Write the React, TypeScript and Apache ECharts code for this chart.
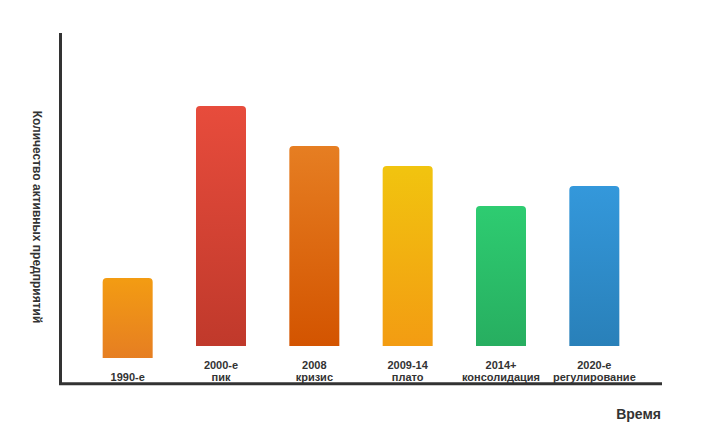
import React, { useEffect, useRef } from "react";
import * as echarts from "echarts";

const categories = ["1990-е", "2000-е\nпик", "2008\nкризис", "2009-14\nплато", "2014+\nконсолидация", "2020-е\nрегулирование"];
const values = [40, 120, 100, 90, 70, 80];
const topColors = ["#f39c12", "#e74c3c", "#e67e22", "#f1c40f", "#2ecc71", "#3498db"];
const bottomColors = ["#e67e22", "#c0392b", "#d35400", "#f39c12", "#27ae60", "#2980b9"];
const yAxisTitle = "Количество активных предприятий";
const xAxisTitle = "Время";

const Y_MAX = 175;
const GRID_TOP = 33;
const GRID_BOTTOM = 63;
const PLOT_H = 446 - GRID_TOP - GRID_BOTTOM;
const LINE_H = 12;
const LABEL_PAD = 13;

export default function App() {
  const ref = useRef<HTMLDivElement>(null);
  useEffect(() => {
    if (!ref.current) return;
    const chart = echarts.init(ref.current, null, { renderer: "svg" });
    const pxPerUnit = PLOT_H / Y_MAX;
    const offsets = categories.map((c) => (LABEL_PAD + c.split("\n").length * LINE_H) / pxPerUnit);
    chart.setOption({
      animation: false,
      backgroundColor: "#fff",
      grid: { left: 81, right: 65, top: GRID_TOP, bottom: GRID_BOTTOM },
      xAxis: {
        type: "category",
        data: categories,
        axisLine: { show: false },
        axisTick: { show: false },
        axisLabel: {
          interval: 0,
          margin: 0,
          verticalAlign: "bottom",
          lineHeight: LINE_H,
          fontSize: 11,
          fontWeight: "bold",
          fontFamily: "Liberation Sans, Arial, sans-serif",
          color: "#333",
        },
      },
      yAxis: {
        type: "value",
        min: 0,
        max: Y_MAX,
        show: false,
        splitLine: { show: false },
      },
      series: [
        {
          type: "bar",
          stack: "s",
          silent: true,
          data: offsets,
          itemStyle: { color: "rgba(0,0,0,0)" },
          barWidth: 50,
        },
        {
          type: "bar",
          stack: "s",
          barWidth: 50,
          data: values.map((v, i) => ({
            value: v,
            itemStyle: {
              borderRadius: [4, 4, 0, 0],
              color: new echarts.graphic.LinearGradient(0, 0, 0, 1, [
                { offset: 0, color: topColors[i] },
                { offset: 1, color: bottomColors[i] },
              ]),
            },
          })),
        },
      ],
      graphic: [
        { type: "line", shape: { x1: 60.5, y1: 33, x2: 60.5, y2: 385 }, style: { stroke: "#333", lineWidth: 3 } },
        { type: "line", shape: { x1: 59, y1: 383.8, x2: 662, y2: 383.8 }, style: { stroke: "#333", lineWidth: 3 } },
        {
          type: "text",
          x: 37,
          y: 217,
          rotation: -Math.PI / 2,
          style: {
            text: yAxisTitle,
            fontSize: 12,
            fontWeight: "bold",
            fontFamily: "Liberation Sans, Arial, sans-serif",
            fill: "#333",
            align: "center",
            verticalAlign: "middle",
          },
        },
        {
          type: "text",
          x: 661,
          y: 414,
          style: {
            text: xAxisTitle,
            fontSize: 14,
            fontWeight: "bold",
            fontFamily: "Liberation Sans, Arial, sans-serif",
            fill: "#333",
            align: "right",
            verticalAlign: "middle",
          },
        },
      ],
    });
    return () => chart.dispose();
  }, []);
  return <div ref={ref} style={{ width: 706, height: 446, position: "absolute", left: 0, top: 0 }} />;
}
